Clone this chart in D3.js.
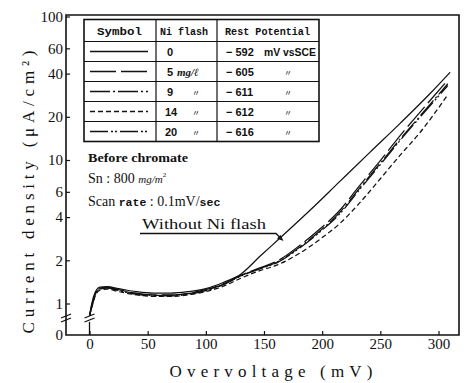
<!DOCTYPE html>
<html><head><meta charset="utf-8">
<script src="https://cdn.jsdelivr.net/npm/d3@7"></script>
<style>body{margin:0;background:#fff}svg{display:block}</style>
</head><body><svg id="c" width="467" height="383"></svg>
<script>
// ---- data ----
const xTicks = [0, 50, 100, 150, 200, 250, 300];
const yTicks = [1, 2, 4, 6, 10, 20, 40, 60, 100];
const yZeroLabel = "0";

const mv0 = [0,2,5,9,15,25,40,55,70,85,100,115,130,147,164,190,215,241,267,293,310];
const cd0 = [0.82,1.0,1.2,1.3,1.31,1.27,1.21,1.18,1.18,1.21,1.27,1.4,1.6,2.15,2.87,4.5,7.07,11.3,18.0,29.2,40.9];
const mvNi = [0,2,5,9,15,25,40,55,70,85,100,115,130,147,161,181,198,215,232,250,267,284,308];
const cd5  = [0.82,0.97,1.17,1.28,1.3,1.25,1.18,1.15,1.15,1.18,1.25,1.37,1.57,1.78,1.97,2.55,3.3,4.45,6.6,9.9,14.8,21.5,36];
const cd9  = [0.82,0.96,1.16,1.27,1.29,1.24,1.17,1.14,1.14,1.17,1.24,1.36,1.56,1.76,1.94,2.48,3.2,4.3,6.35,9.5,14.0,20.2,34];
const cd14 = [0.82,0.94,1.13,1.24,1.26,1.21,1.15,1.12,1.12,1.15,1.21,1.32,1.5,1.7,1.85,2.25,2.8,3.6,5.0,7.4,10.8,15.5,28.5];
const cd20 = [0.82,0.95,1.15,1.26,1.28,1.23,1.16,1.13,1.13,1.16,1.23,1.35,1.55,1.75,1.92,2.45,3.15,4.2,6.2,9.3,13.7,19.8,33];

const niFlash = ["0", "5", "9", "14", "20"];
const niUnit = ["", "mg/ℓ", "〃", "〃", "〃"];
const restPot = ["− 592", "− 605", "− 611", "− 612", "− 616"];
const restUnit = ["mV vsSCE", "〃", "〃", "〃", "〃"];
const dashes = ["none", "26,5", "20,3,2,3", "5,3", "18,3,2,2,2,3"];

const series = [
  {mv: mv0, cd: cd0, dash: dashes[0]},
  {mv: mvNi, cd: cd5, dash: dashes[1]},
  {mv: mvNi, cd: cd9, dash: dashes[2]},
  {mv: mvNi, cd: cd14, dash: dashes[3]},
  {mv: mvNi, cd: cd20, dash: dashes[4]}
];

// ---- layout ----
const svg = d3.select("#c");
const L = 66, R = 459, T = 15, B = 335;
const x = d3.scaleLinear().domain([0, 300]).range([89.5, 438.5]);
const y = d3.scaleLog().domain([1, 100]).range([303.5, 16.5]);
const ink = "#111";
const serif = "'Liberation Serif','DejaVu Serif',serif";
const mono = "'Liberation Mono','DejaVu Sans Mono',monospace";

// frame
svg.append("path").attr("d", `M${L},${T}H${R}V${B}H${L}Z`).attr("fill","none").attr("stroke",ink).attr("stroke-width",1.6);

// y axis
const yAx = svg.append("g").attr("transform", `translate(${L},0)`)
  .call(d3.axisLeft(y).tickValues(yTicks).tickFormat(d3.format("d")).tickSizeInner(-4).tickSizeOuter(0).tickPadding(3));
yAx.select(".domain").remove();
yAx.selectAll("line").attr("stroke", ink).attr("stroke-width", 1.2);
yAx.selectAll("text").attr("font-family", serif).attr("font-size", 15).attr("fill", ink);
svg.append("text").attr("x", L - 3).attr("y", B).attr("dy", "0.32em").attr("text-anchor","end")
  .attr("font-family", serif).attr("font-size", 15).attr("fill", ink).text(yZeroLabel);

// x axis
const xAx = svg.append("g").attr("transform", `translate(0,${B})`)
  .call(d3.axisBottom(x).tickValues(xTicks).tickFormat(d3.format("d")).tickSizeInner(-4).tickSizeOuter(0).tickPadding(3));
xAx.select(".domain").remove();
xAx.selectAll("line").attr("stroke", ink).attr("stroke-width", 1.2);
xAx.selectAll("text").attr("font-family", serif).attr("font-size", 15).attr("fill", ink);

// zero vertical with break marks
const yStart = y(0.82);
svg.append("line").attr("x1", x(0)).attr("x2", x(0)).attr("y1", B).attr("y2", yStart + 6).attr("stroke", ink).attr("stroke-width", 1.3);
function brk(cx, cy) {
  [0, 4].forEach(o => {
    svg.append("line").attr("x1", cx - 5).attr("y1", cy + 2 + o).attr("x2", cx + 5).attr("y2", cy - 2 + o)
      .attr("stroke", ink).attr("stroke-width", 1.3);
  });
}
brk(x(0), 316);
brk(L, 316);

// curves
const line = d3.line().x(d => x(d[0])).y(d => y(d[1])).curve(d3.curveMonotoneX);
series.forEach(s => {
  svg.append("path").attr("d", line(s.mv.map((v, i) => [v, s.cd[i]])))
    .attr("fill", "none").attr("stroke", ink).attr("stroke-width", 1.25)
    .attr("stroke-dasharray", s.dash);
});

// legend table
const tL = 84, tR = 319, tT = 19.5, tB = 141.5, c1 = 156, c2 = 217;
const rowY = [41.5, 61.5, 81.5, 101.5, 121.5, 141.5];
const tg = svg.append("g");
tg.append("rect").attr("x", tL).attr("y", tT).attr("width", tR - tL).attr("height", tB - tT)
  .attr("fill", "#fff").attr("stroke", ink).attr("stroke-width", 1.6);
rowY.slice(0, 5).forEach(v => tg.append("line").attr("x1", tL).attr("x2", tR).attr("y1", v).attr("y2", v).attr("stroke", ink).attr("stroke-width", 1.2));
[c1, c2].forEach(v => tg.append("line").attr("x1", v).attr("x2", v).attr("y1", tT).attr("y2", tB).attr("stroke", ink).attr("stroke-width", 1.2));
const hdr = {"font-family": mono, "font-size": 10.5, "font-weight": "bold", fill: ink};
function T_(g, tx, ty, str, attrs, len) {
  const t = g.append("text").attr("x", tx).attr("y", ty).text(str);
  Object.entries(attrs).forEach(([k, v]) => t.attr(k, v));
  if (len) t.attr("textLength", len).attr("lengthAdjust", "spacingAndGlyphs");
  return t;
}
T_(tg, 97, 34.5, "Symbol", hdr, 45);
T_(tg, 160, 34.5, "Ni flash", hdr, 48);
T_(tg, 225, 34.5, "Rest Potential", hdr, 85);
const cell = {"font-family": "'Liberation Sans','DejaVu Sans',sans-serif", "font-size": 11, "font-weight": "bold", fill: ink};
niFlash.forEach((n, i) => {
  const cy = (rowY[i] + rowY[i + 1]) / 2;
  tg.append("line").attr("x1", 90).attr("x2", 148).attr("y1", cy).attr("y2", cy)
    .attr("stroke", ink).attr("stroke-width", 1.5).attr("stroke-dasharray", dashes[i]);
  T_(tg, n.length > 1 ? 165 : 167, cy + 4, n, cell);
  if (niUnit[i] === "mg/ℓ") {
    T_(tg, 177, cy + 4, niUnit[i], {"font-family": serif, "font-size": 11, "font-style": "italic", "font-weight": "bold", fill: ink});
  } else if (niUnit[i]) {
    T_(tg, 192, cy + 4, niUnit[i], {"font-family": "'Noto Sans CJK JP',sans-serif", "font-size": 8, fill: ink});
  }
  T_(tg, 226, cy + 4, restPot[i], cell);
  if (i === 0) T_(tg, 264, cy + 4, restUnit[i], cell, 52);
  else T_(tg, 284, cy + 4, restUnit[i], {"font-family": "'Noto Sans CJK JP',sans-serif", "font-size": 8, fill: ink});
});

// annotation text
const ann = {"font-family": serif, "font-size": 13, fill: ink};
T_(svg, 88, 162, "Before chromate", ann, 100).attr("font-weight", "bold");
const sn = svg.append("text").attr("x", 88).attr("y", 183).attr("font-family", serif).attr("font-size", 14).attr("fill", ink);
sn.append("tspan").text("Sn : 800 ");
sn.append("tspan").attr("font-style", "italic").attr("font-size", 11).text("mg/m");
sn.append("tspan").attr("font-size", 7).attr("dy", -6).text("2");
const sc = svg.append("text").attr("x", 88).attr("y", 206).attr("font-family", serif).attr("font-size", 14).attr("fill", ink);
sc.append("tspan").text("Scan ");
sc.append("tspan").attr("font-family", mono).attr("font-size", 11.5).attr("font-weight","bold").text("rate");
sc.append("tspan").text(" : 0.1mV/");
sc.append("tspan").attr("font-family", mono).attr("font-size", 11.5).attr("font-weight","bold").text("sec");
T_(svg, 142, 229, "Without Ni flash", {"font-family": serif, "font-size": 14, fill: ink}, 124);
svg.append("path").attr("d", "M140,233.5H276L282,239.5").attr("fill", "none").attr("stroke", ink).attr("stroke-width", 1.3);
svg.append("path").attr("d", "M283.5,241L277,238.5L280.5,235Z").attr("fill", ink);

// axis titles
svg.append("text").attr("transform", "translate(34,192) rotate(-90)").attr("text-anchor", "middle")
  .attr("font-family", serif).attr("font-size", 17).attr("fill", ink)
  .attr("textLength", 283).attr("lengthAdjust", "spacing").text("Current density (μA/cm²)");
svg.append("text").attr("x", 271).attr("y", 377).attr("text-anchor", "middle")
  .attr("font-family", serif).attr("font-size", 17).attr("fill", ink)
  .attr("textLength", 203).attr("lengthAdjust", "spacing").text("Overvoltage (mV)");
</script></body></html>
